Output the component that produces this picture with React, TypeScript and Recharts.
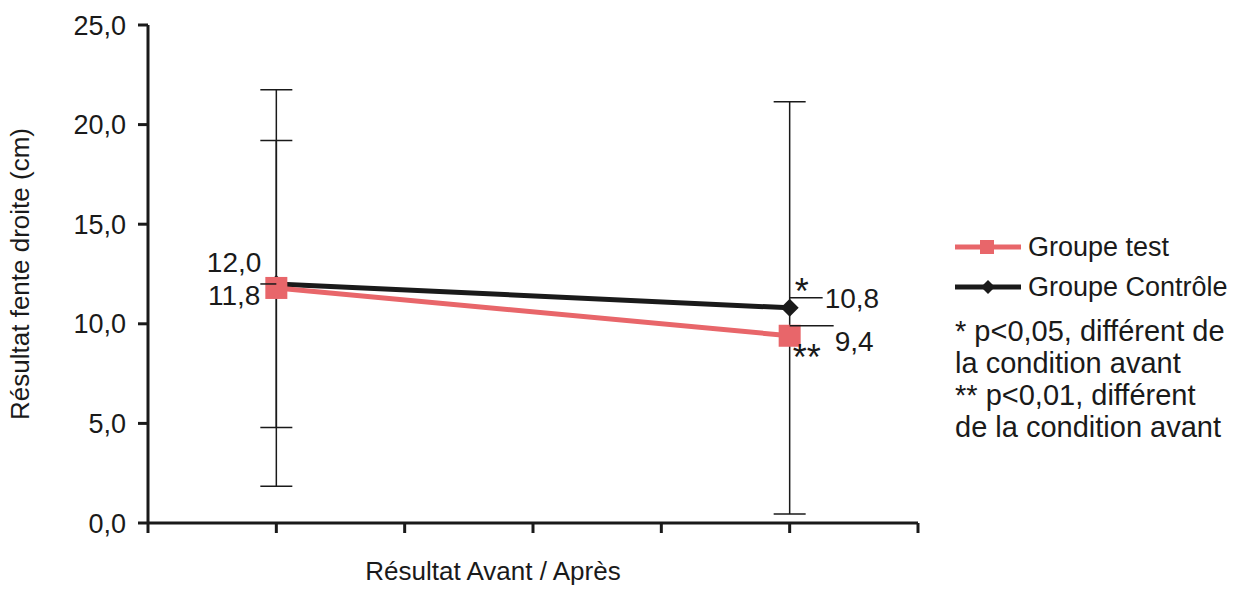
import { LineChart, Line, XAxis, YAxis, ErrorBar, LabelList, Legend } from 'recharts'

const categories = ['Avant', 'Après']
const xPositions = [1, 5]
const testValues = [11.8, 9.4]
const testErrors = [9.95, null]
const controlValues = [12.0, 10.8]
const controlErrors = [7.2, 10.35]
const testSignif = ['', '**']
const controlSignif = ['', '*']
const yTicks = [0, 5, 10, 15, 20, 25]
const xTicks = [0, 1, 2, 3, 4, 5, 6]
const notes = ['* p<0,05, différent de', 'la condition avant', '** p<0,01, différent', 'de la condition avant']

const FONT = '"Liberation Sans", Arial, sans-serif'
const INK = '#1a1a1a'
const RED = '#e8666a'

const fmt = (v: number) => v.toFixed(1).replace('.', ',')

const data = categories.map((c, i) => ({
  cat: c,
  x: xPositions[i],
  test: testValues[i],
  testErr: testErrors[i],
  control: controlValues[i],
  controlErr: controlErrors[i],
}))

const Square = (p: any) => {
  if (p.cx == null || p.cy == null) return null
  return <rect x={p.cx - 11} y={p.cy - 11} width={22} height={22} fill={RED} />
}

const Diamond = (p: any) => {
  if (p.cx == null || p.cy == null) return null
  const s = 9
  return <path d={`M${p.cx},${p.cy - s}L${p.cx + s},${p.cy}L${p.cx},${p.cy + s}L${p.cx - s},${p.cy}Z`} fill={INK} />
}

const txt = { fontFamily: FONT, fontSize: 28, fill: INK }
const star = { fontFamily: FONT, fontSize: 36, fill: INK }

const ControlLabel = (p: any) => {
  const { x, y, value, index } = p
  if (index === 0) {
    return (
      <g>
        <line x1={x - 16} y1={y} x2={x} y2={y} stroke={INK} strokeWidth={1.5} />
        <text x={x - 15} y={y - 12} textAnchor="end" {...txt}>{fmt(value)}</text>
      </g>
    )
  }
  return (
    <g>
      <line x1={x} y1={y - 10} x2={x + 33} y2={y - 10} stroke={INK} strokeWidth={1.5} />
      <text x={x + 35} y={y} textAnchor="start" {...txt}>{fmt(value)}</text>
      <text x={x + 5} y={y - 4} textAnchor="start" {...star}>{controlSignif[index]}</text>
    </g>
  )
}

const TestLabel = (p: any) => {
  const { x, y, value, index } = p
  if (index === 0) {
    return <text x={x - 16} y={y + 17} textAnchor="end" {...txt}>{fmt(value)}</text>
  }
  return (
    <g>
      <line x1={x} y1={y - 10} x2={x + 44} y2={y - 10} stroke={INK} strokeWidth={1.5} />
      <text x={x + 45} y={y + 15} textAnchor="start" {...txt}>{fmt(value)}</text>
      <text x={x + 3} y={y + 34} textAnchor="start" {...star}>{testSignif[index]}</text>
    </g>
  )
}

const LegendBox = () => (
  <div style={{ fontFamily: FONT, fontSize: 27, color: INK, textAlign: 'left' }}>
    <div style={{ display: 'flex', alignItems: 'center', height: 40 }}>
      <svg width={66} height={20} style={{ marginRight: 7 }}>
        <line x1={0} y1={10} x2={66} y2={10} stroke={RED} strokeWidth={5} />
        <rect x={25} y={3} width={14} height={14} fill={RED} />
      </svg>
      <span>Groupe test</span>
    </div>
    <div style={{ display: 'flex', alignItems: 'center', height: 40 }}>
      <svg width={66} height={20} style={{ marginRight: 7 }}>
        <line x1={0} y1={10} x2={66} y2={10} stroke={INK} strokeWidth={5} />
        <path d="M33,3L40,10L33,17L26,10Z" fill={INK} />
      </svg>
      <span>Groupe Contrôle</span>
    </div>
    <div style={{ marginTop: 8, lineHeight: '32px', fontSize: 29 }}>
      {notes.map((n, i) => <div key={i}>{n}</div>)}
    </div>
  </div>
)

export default function App() {
  return (
    <div style={{ position: 'absolute', left: 0, top: 0, width: 1243, height: 589, background: '#fff' }}>
      <LineChart width={1243} height={589} data={data} margin={{ top: 25, right: 325, bottom: 0, left: 0 }}>
        <XAxis
          type="number"
          dataKey="x"
          domain={[0, 6]}
          ticks={xTicks}
          tick={() => <g />}
          tickSize={10}
          height={66}
          axisLine={{ stroke: INK, strokeWidth: 3 }}
          tickLine={{ stroke: INK, strokeWidth: 3 }}
          label={{ value: 'Résultat Avant / Après', position: 'insideBottom', offset: 9, dx: -40, style: { fontFamily: FONT, fontSize: 26, fill: INK } }}
        />
        <YAxis
          type="number"
          domain={[0, 25]}
          ticks={yTicks}
          tickFormatter={fmt}
          width={148}
          tickSize={10}
          tickMargin={12}
          axisLine={{ stroke: INK, strokeWidth: 3 }}
          tickLine={{ stroke: INK, strokeWidth: 3 }}
          tick={{ fontFamily: FONT, fontSize: 27, fill: INK }}
          label={{ value: 'Résultat fente droite (cm)', angle: -90, position: 'center', dx: -54, style: { fontFamily: FONT, fontSize: 26, fill: INK } }}
        />
        <Legend
          layout="vertical"
          align="center"
          verticalAlign="middle"
          content={() => <LegendBox />}
          wrapperStyle={{ left: 955, top: 227, width: 288 }}
        />
        <Line dataKey="control" stroke={INK} strokeWidth={5} dot={<Diamond />} activeDot={false} isAnimationActive={false}>
          <LabelList dataKey="control" content={<ControlLabel />} />
        </Line>
        <Line dataKey="test" stroke={RED} strokeWidth={5} dot={<Square />} activeDot={false} isAnimationActive={false}>
          <LabelList dataKey="test" content={<TestLabel />} />
        </Line>
        <Line dataKey="test" stroke="none" dot={false} activeDot={false} legendType="none" isAnimationActive={false}>
          <ErrorBar dataKey="testErr" direction="y" width={16} stroke={INK} strokeWidth={1.5} />
        </Line>
        <Line dataKey="control" stroke="none" dot={false} activeDot={false} legendType="none" isAnimationActive={false}>
          <ErrorBar dataKey="controlErr" direction="y" width={16} stroke={INK} strokeWidth={1.5} />
        </Line>
      </LineChart>
    </div>
  )
}
